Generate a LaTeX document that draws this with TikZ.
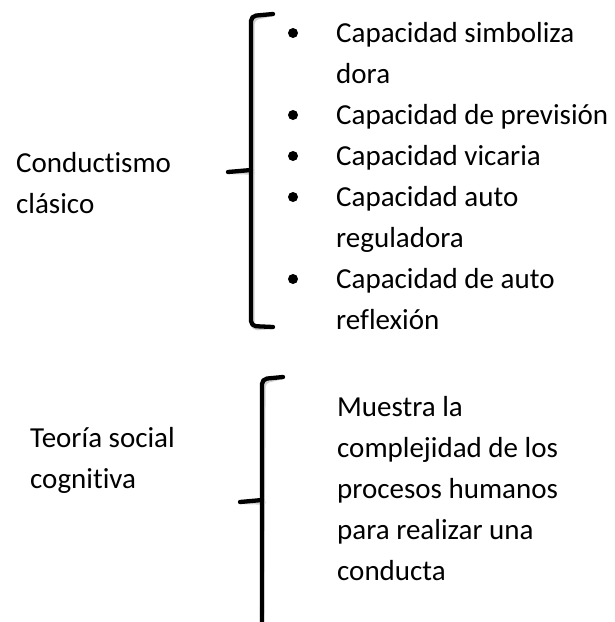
\documentclass[tikz,border=0pt]{standalone}
\usepackage{fontspec}
\setmainfont{Carlito}[Ligatures=NoCommon]
\usetikzlibrary{positioning}
\tikzset{
  termtext/.style={anchor=base west,inner sep=0pt,align=left,
    font=\fontsize{29}{40.5}\selectfont},
  itemtext/.style={anchor=base west,inner sep=0pt,align=left,
    font=\fontsize{29}{41}\selectfont},
  itemdot/.style={circle,fill=black,inner sep=0pt,minimum size=10pt},
  bracket/.style={line width=4.3pt,line cap=round,line join=round,rounded corners=5pt},
  bracketshadow/.style={bracket,draw=black!18,shift={(1.5,2.5)}}
}
\begin{document}
\begin{tikzpicture}[x=1pt,y=-1pt]
\useasboundingbox (0,0) rectangle (615,622);
% left terms (anchored at the baseline of their last line)
\node[termtext] (conduct) at (16,213) {Conductismo\\clásico};
\node[termtext] (teoria) at (30,488) {Teoría social\\cognitiva};
% first bracket
\coordinate (b1top) at (273,14);
\coordinate (b1bot) at (273,327);
\coordinate (b1tip) at (228,172);
\foreach \s in {bracketshadow,bracket}{
  \draw[\s] (b1top) -- (251,16) -- (251,326) -- (b1bot);
  \draw[\s] (251,170) -- (b1tip);
}
% list of capacities
\node[itemtext] (cap1) at (336,83) {Capacidad simboliza\\dora};
\node[itemtext] (cap2) at (336,124) {Capacidad de previsión};
\node[itemtext] (cap3) at (336,165) {Capacidad vicaria};
\node[itemtext] (cap4) at (336,247) {Capacidad auto\\reguladora};
\node[itemtext] (cap5) at (336,329) {Capacidad de auto\\reflexión};
\node[itemdot] (dot1) at (293,33) {};
\node[itemdot] (dot2) at (293,115) {};
\node[itemdot] (dot3) at (293,156) {};
\node[itemdot] (dot4) at (293,197) {};
\node[itemdot] (dot5) at (293,279) {};
% second bracket
\coordinate (b2top) at (283,377);
\coordinate (b2bot) at (262,630);
\coordinate (b2tip) at (240,502);
\foreach \s in {bracketshadow,bracket}{
  \draw[\s] (b2top) -- (262,379) -- (b2bot);
  \draw[\s] (262,500) -- (b2tip);
}
\node[itemtext] (muestra) at (337,580)
  {Muestra la\\complejidad de los\\procesos humanos\\para realizar una\\conducta};
\end{tikzpicture}
\end{document}
